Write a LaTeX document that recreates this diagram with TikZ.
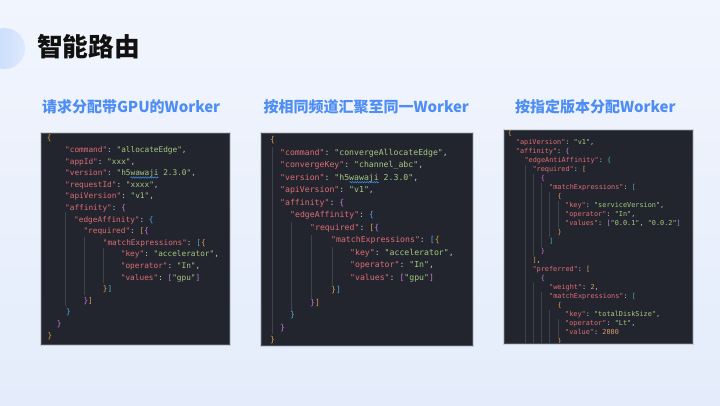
\documentclass[tikz,border=0pt]{standalone}
\usepackage{fontspec}
\usetikzlibrary{decorations.pathmorphing}
\newfontfamily\cjk{Noto Sans CJK SC}
\newfontfamily\codefont{DejaVu Sans Mono}
\definecolor{bgtop}{HTML}{F1F5FD}
\definecolor{bgbot}{HTML}{E4ECFB}
\definecolor{circA}{HTML}{C3D8FA}
\definecolor{circB}{HTML}{DDE9FD}
\definecolor{titlec}{HTML}{111111}
\definecolor{subc}{HTML}{4F8DF6}
\definecolor{panel}{HTML}{22252D}
\definecolor{panelb}{HTML}{4A4E57}
\definecolor{guide}{HTML}{3F434C}
\definecolor{jkey}{HTML}{E06C75}
\definecolor{jstr}{HTML}{A8C982}
\definecolor{jpun}{HTML}{C2C6CE}
\definecolor{jnum}{HTML}{D7A067}
\definecolor{bgold}{HTML}{D9A04C}
\definecolor{bpurp}{HTML}{C678DD}
\definecolor{bblue}{HTML}{4FA8D0}
\definecolor{squig}{HTML}{3B8EEA}
\newcommand\jk[1]{\textcolor{jkey}{"#1"}}
\newcommand\js[1]{\textcolor{jstr}{"#1"}}
\newcommand\jc{\textcolor{jpun}{:}\ }
\newcommand\jm{\textcolor{jpun}{,}}
\newcommand\jn[1]{\textcolor{jnum}{#1}}
\newcommand\cg[1]{\textcolor{bgold}{#1}}
\newcommand\cp[1]{\textcolor{bpurp}{#1}}
\newcommand\cb[1]{\textcolor{bblue}{#1}}
\tikzset{
  codeA/.style={font=\codefont\fontsize{7.76}{9}\selectfont, anchor=base west, inner sep=0pt, text=jpun},
  codeB/.style={font=\codefont\fontsize{8.19}{10}\selectfont, anchor=base west, inner sep=0pt, text=jpun},
  codeC/.style={font=\codefont\fontsize{6.86}{8}\selectfont, anchor=base west, inner sep=0pt, text=jpun},
  subtitle/.style={font=\cjk\bfseries\fontsize{15}{18}\selectfont, anchor=base west, inner sep=0pt, text=subc},
  panelbox/.style={fill=panel, draw=panelb, line width=0.8pt},
  guideline/.style={draw=guide, line width=0.6pt},
  squiggle/.style={draw=squig, line width=0.5pt, decorate, decoration={snake, segment length=2.4pt, amplitude=0.7pt}}
}
\begin{document}
\begin{tikzpicture}[x=1pt,y=-1pt]
\useasboundingbox (0,0) rectangle (720,405);
\shade[top color=bgtop, bottom color=bgbot] (0,0) rectangle (720,405);
\shade[left color=circA, right color=circB] (4.5,48.5) circle (20.5);

\node[anchor=base west, inner sep=0pt, font=\cjk\bfseries\fontsize{25.7}{30}\selectfont, text=titlec] (title) at (36.8,56.8) {智能路由};

\node[subtitle] (s1) at (41.8,112) {请求分配带GPU的Worker};
\node[subtitle] (s2) at (263.3,112) {按相同频道汇聚至同一Worker};
\node[subtitle] (s3) at (514.8,112) {按指定版本分配Worker};

% panels
\fill[black, opacity=0.12] (39.5,131.5) rectangle (230.5,345.5);
\fill[black, opacity=0.12] (259.5,131.5) rectangle (473.5,346.5);
\fill[black, opacity=0.12] (502.5,128.5) rectangle (693.5,344.5);
\draw[panelbox] (41,133) rectangle (229,344);
\draw[panelbox] (261,133) rectangle (472,345);
\draw[panelbox] (504,130) rectangle (692,343);

% ---------- panel 1 ----------
\def\ya{140.9}\def\da{11.6}
\draw[guideline] (64.8,212) -- (64.8,306);
\draw[guideline] (83.8,237) -- (83.8,295);
\draw[guideline] (103.2,248) -- (103.2,283);
\node[codeA] (a1) at (46.7,\ya) {\cg{\{}};
\node[codeA] (a2) at (65,\ya+1*\da) {\jk{command}\jc\js{allocateEdge}\jm};
\node[codeA] (a3) at (65,\ya+2*\da) {\jk{appId}\jc\js{xxx}\jm};
\node[codeA] (a4) at (65,\ya+3*\da) {\jk{version}\jc\js{h5wawaji 2.3.0}\jm};
\node[codeA] (a5) at (65,\ya+4*\da) {\jk{requestId}\jc\js{xxxx}\jm};
\node[codeA] (a6) at (65,\ya+5*\da) {\jk{apiVersion}\jc\js{v1}\jm};
\node[codeA] (a7) at (65,\ya+6*\da) {\jk{affinity}\jc\cp{\{}};
\node[codeA] (a8) at (74,\ya+7*\da) {\jk{edgeAffinity}\jc\cb{\{}};
\node[codeA] (a9) at (83.3,\ya+8*\da) {\jk{required}\jc\cg{[}\cp{\{}};
\node[codeA] (a10) at (102.7,\ya+9*\da) {\jk{matchExpressions}\jc\cb{[}\cg{\{}};
\node[codeA] (a11) at (120.7,\ya+10*\da) {\jk{key}\jc\js{accelerator}\jm};
\node[codeA] (a12) at (120.7,\ya+11*\da) {\jk{operator}\jc\js{In}\jm};
\node[codeA] (a13) at (120.7,\ya+12*\da) {\jk{values}\jc\cp{[}\js{gpu}\cp{]}};
\node[codeA] (a14) at (102.7,\ya+13*\da) {\cg{\}}\cb{]}};
\node[codeA] (a15) at (83.3,\ya+14*\da) {\cp{\}}\cg{]}};
\node[codeA] (a16) at (66,\ya+15*\da) {\cb{\}}};
\node[codeA] (a17) at (56.7,\ya+16*\da) {\cp{\}}};
\node[codeA] (a18) at (47.3,\ya+17*\da) {\cg{\}}};
\draw[squiggle] (130.4,\ya+3*\da+1.8) -- (158.4,\ya+3*\da+1.8);

% ---------- panel 2 ----------
\def\yb{142.8}\def\db{12.5}
\draw[guideline] (271.8,147) -- (271.8,334);
\draw[guideline] (291.5,222) -- (291.5,312);
\draw[guideline] (311.5,235) -- (311.5,298);
\draw[guideline] (332.5,247) -- (332.5,285);
\node[codeB] (b1) at (270,\yb) {\cg{\{}};
\node[codeB] (b2) at (280,\yb+1*\db) {\jk{command}\jc\js{convergeAllocateEdge}\jm};
\node[codeB] (b3) at (280,\yb+2*\db) {\jk{convergeKey}\jc\js{channel\_abc}\jm};
\node[codeB] (b4) at (280,\yb+3*\db) {\jk{version}\jc\js{h5wawaji 2.3.0}\jm};
\node[codeB] (b5) at (280,\yb+4*\db) {\jk{apiVersion}\jc\js{v1}\jm};
\node[codeB] (b6) at (280,\yb+5*\db) {\jk{affinity}\jc\cp{\{}};
\node[codeB] (b7) at (290,\yb+6*\db) {\jk{edgeAffinity}\jc\cb{\{}};
\node[codeB] (b8) at (310,\yb+7*\db) {\jk{required}\jc\cg{[}\cp{\{}};
\node[codeB] (b9) at (331,\yb+8*\db) {\jk{matchExpressions}\jc\cb{[}\cg{\{}};
\node[codeB] (b10) at (350,\yb+9*\db) {\jk{key}\jc\js{accelerator}\jm};
\node[codeB] (b11) at (350,\yb+10*\db) {\jk{operator}\jc\js{In}\jm};
\node[codeB] (b12) at (350,\yb+11*\db) {\jk{values}\jc\cp{[}\js{gpu}\cp{]}};
\node[codeB] (b13) at (331,\yb+12*\db) {\cg{\}}\cb{]}};
\node[codeB] (b14) at (310,\yb+13*\db) {\cp{\}}\cg{]}};
\node[codeB] (b15) at (290,\yb+14*\db) {\cb{\}}};
\node[codeB] (b16) at (280,\yb+15*\db) {\cp{\}}};
\node[codeB] (b17) at (270,\yb+16*\db) {\cg{\}}};
\draw[squiggle] (349.5,\yb+3*\db+1.9) -- (379,\yb+3*\db+1.9);

% ---------- panel 3 ----------
\def\yc{135.0}\def\dc{9.08}
\begin{scope}
\clip (504.4,130.4) rectangle (691.6,342.6);
\draw[guideline] (525,165) -- (525,343);
\draw[guideline] (533,174) -- (533,256) (533,283) -- (533,343);
\draw[guideline] (541.4,183) -- (541.4,247) (541.4,292) -- (541.4,343);
\draw[guideline] (549.7,192) -- (549.7,237) (549.7,310) -- (549.7,343);
\draw[guideline] (558,201) -- (558,228) (558,319) -- (558,337);
\node[codeC] (c0) at (507.7,\yc) {\cg{\{}};
\node[codeC] (c1) at (515.7,\yc+1*\dc) {\jk{apiVersion}\jc\js{v1}\jm};
\node[codeC] (c2) at (515.7,\yc+2*\dc) {\jk{affinity}\jc\cp{\{}};
\node[codeC] (c3) at (524.3,\yc+3*\dc) {\jk{edgeAntiAffinity}\jc\cb{\{}};
\node[codeC] (c4) at (532.3,\yc+4*\dc) {\jk{required}\jc\cg{[}};
\node[codeC] (c5) at (540.7,\yc+5*\dc) {\cp{\{}};
\node[codeC] (c6) at (549,\yc+6*\dc) {\jk{matchExpressions}\jc\cb{[}};
\node[codeC] (c7) at (557.3,\yc+7*\dc) {\cg{\{}};
\node[codeC] (c8) at (565,\yc+8*\dc) {\jk{key}\jc\js{serviceVersion}\jm};
\node[codeC] (c9) at (565,\yc+9*\dc) {\jk{operator}\jc\js{In}\jm};
\node[codeC] (c10) at (565,\yc+10*\dc) {\jk{values}\jc\cp{[}\js{0.0.1}\jm\ \js{0.0.2}\cp{]}};
\node[codeC] (c11) at (557.3,\yc+11*\dc) {\cg{\}}};
\node[codeC] (c12) at (549,\yc+12*\dc) {\cb{]}};
\node[codeC] (c13) at (540.7,\yc+13*\dc) {\cp{\}}};
\node[codeC] (c14) at (532.3,\yc+14*\dc) {\cg{]}\jm};
\node[codeC] (c15) at (532.3,\yc+15*\dc) {\jk{preferred}\jc\cg{[}};
\node[codeC] (c16) at (540.7,\yc+16*\dc) {\cp{\{}};
\node[codeC] (c17) at (549,\yc+17*\dc) {\jk{weight}\jc\jn{2}\jm};
\node[codeC] (c18) at (549,\yc+18*\dc) {\jk{matchExpressions}\jc\cb{[}};
\node[codeC] (c19) at (557.3,\yc+19*\dc) {\cg{\{}};
\node[codeC] (c20) at (565,\yc+20*\dc) {\jk{key}\jc\js{totalDiskSize}\jm};
\node[codeC] (c21) at (565,\yc+21*\dc) {\jk{operator}\jc\js{Lt}\jm};
\node[codeC] (c22) at (565,\yc+22*\dc) {\jk{value}\jc\jn{2000}};
\node[codeC] (c23) at (557.3,\yc+23*\dc) {\cg{\}}};
\end{scope}
\end{tikzpicture}
\end{document}
